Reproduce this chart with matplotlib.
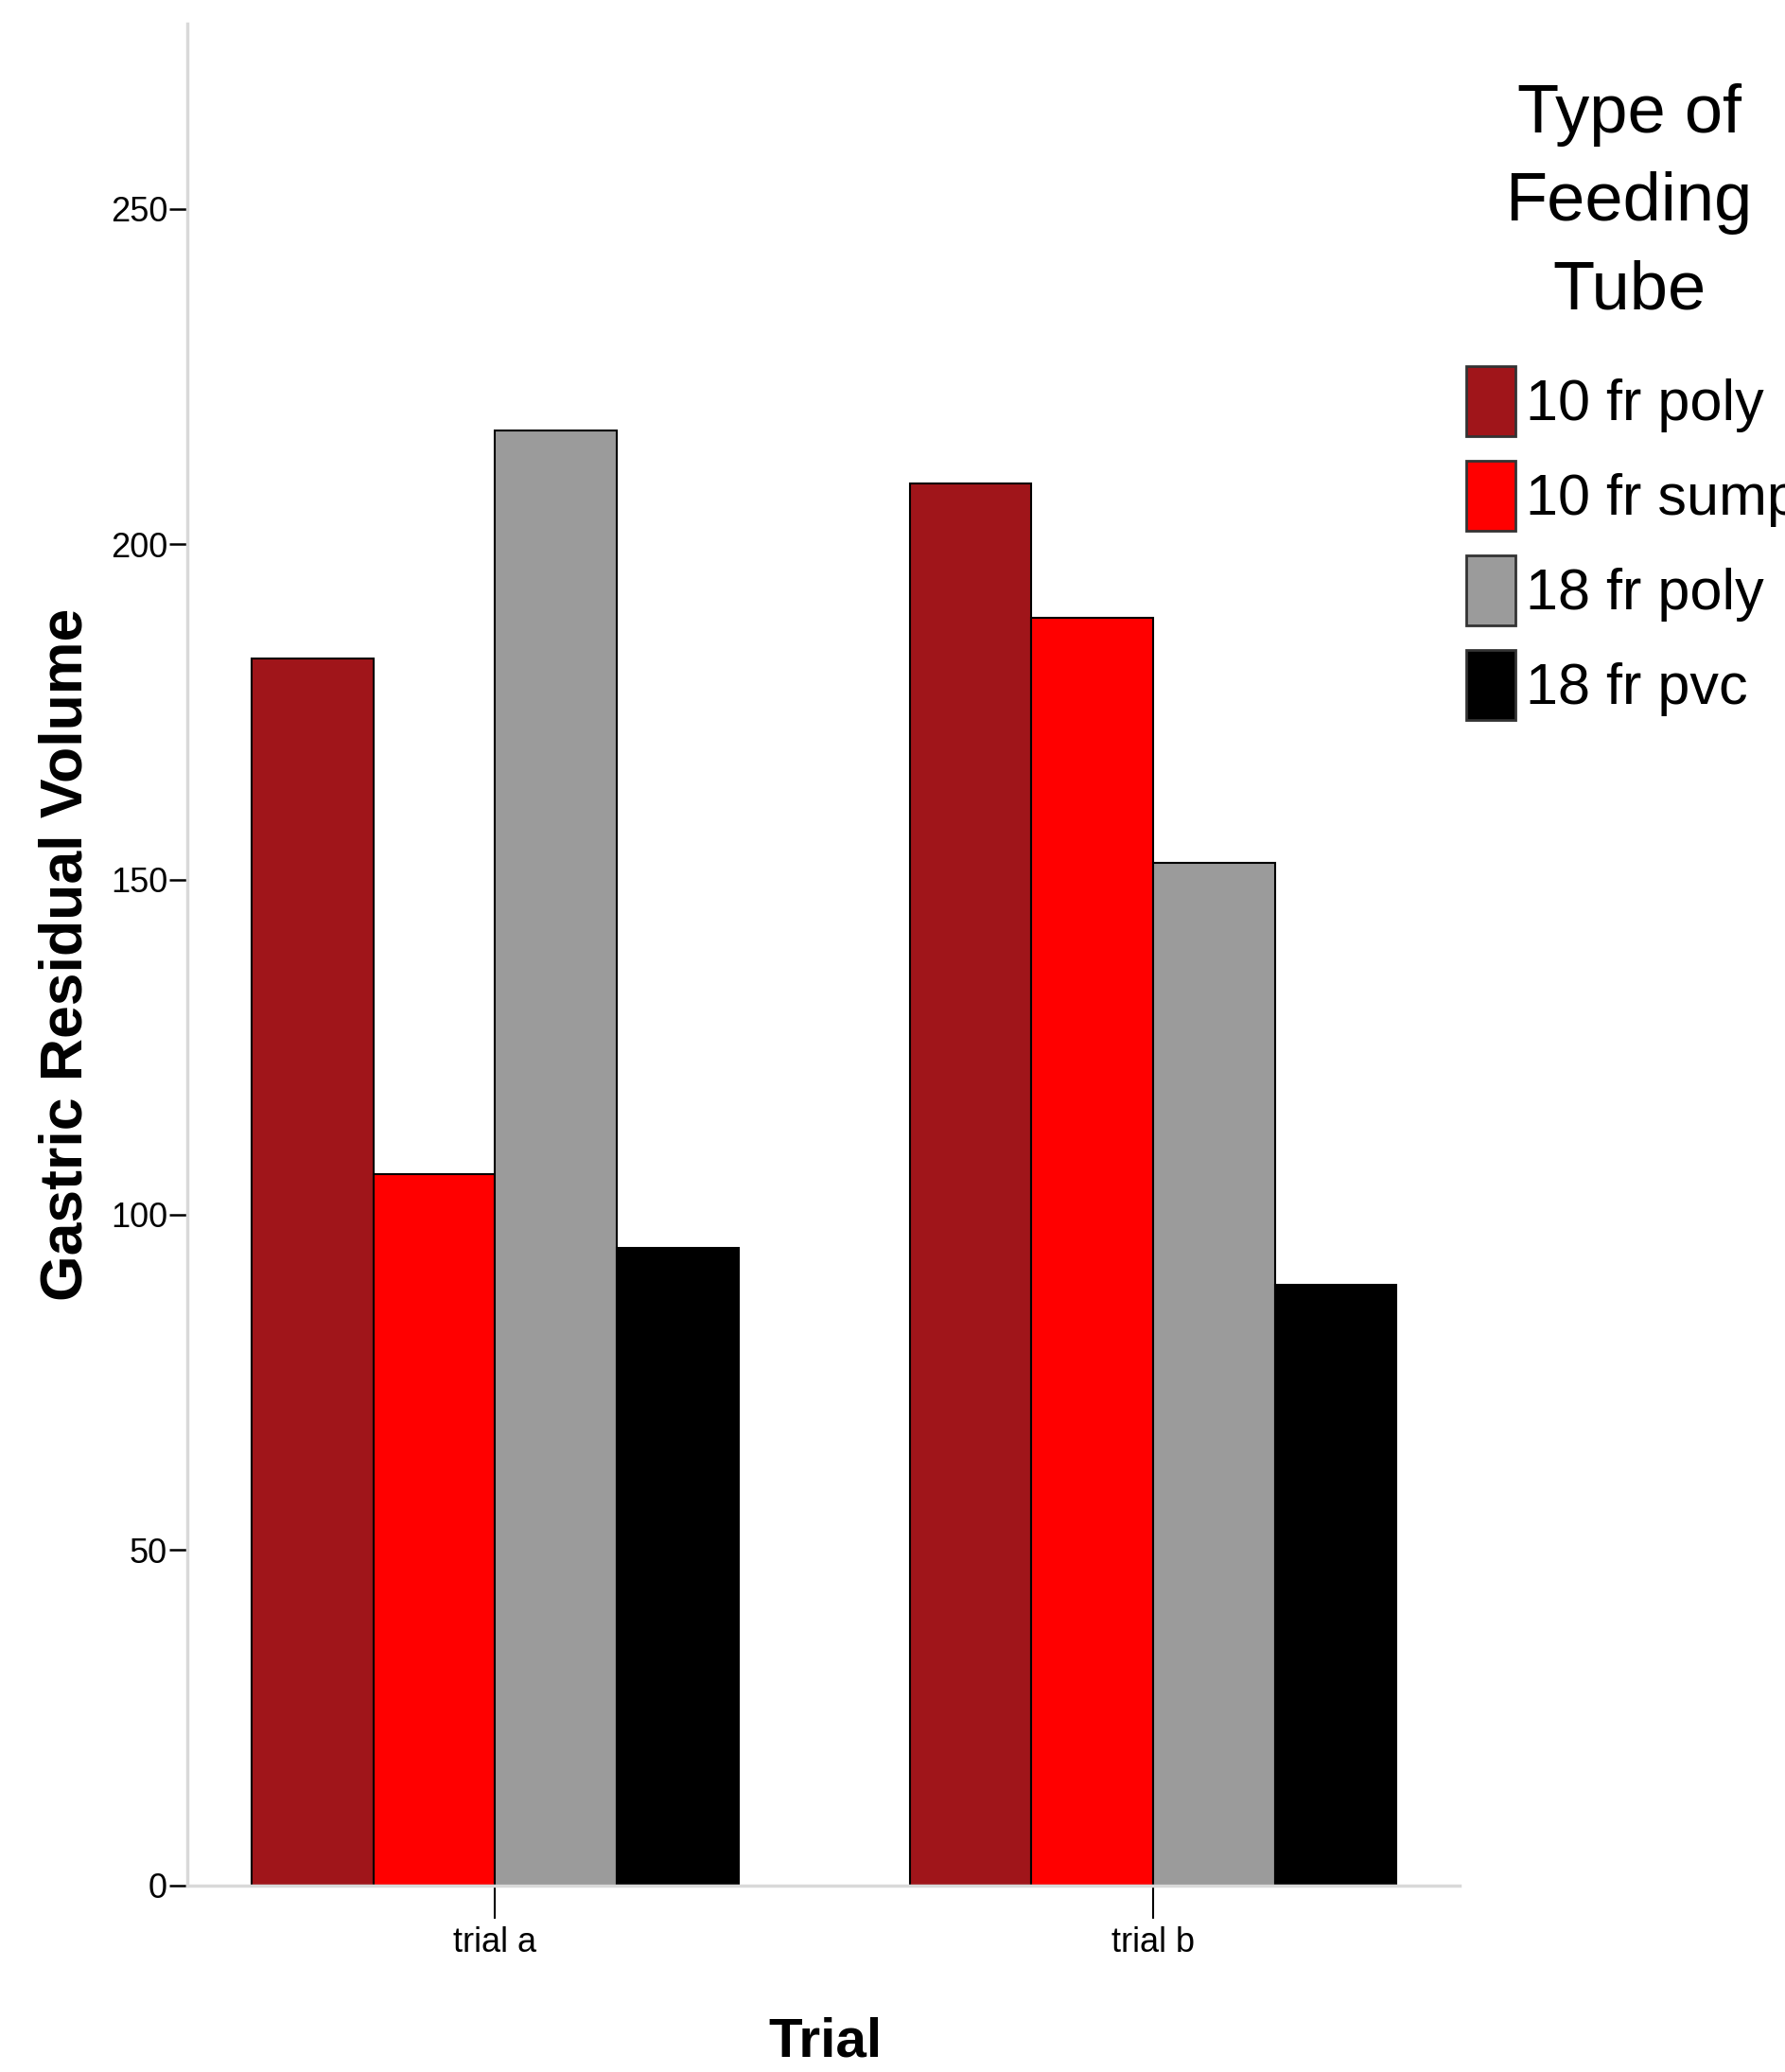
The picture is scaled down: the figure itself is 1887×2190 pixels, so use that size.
import matplotlib.pyplot as plt
import numpy as np

# data
trials = ['trial a', 'trial b']
tube_types = ['10 fr poly', '10 fr sump', '18 fr poly', '18 fr pvc']
poly10 = [183, 209]
sump10 = [106, 189]
poly18 = [217, 152.5]
pvc18 = [95, 89.5]
tube_colors = ['#a0151a', '#ff0000', '#9b9b9b', '#000000']

plain = ['Liberation Sans', 'DejaVu Sans']

fig = plt.figure(figsize=(18.87, 21.9), dpi=100)
ax = fig.add_axes([0.1049, 0.0900, 0.7128, 0.8986])

x = np.arange(len(trials))
w = 0.185
series = [poly10, sump10, poly18, pvc18]
for i, vals in enumerate(series):
    ax.bar(x + (i - 1.5) * w, vals, width=w, color=tube_colors[i],
           edgecolor='black', linewidth=1.5, label=tube_types[i])

ax.set_xlim(-0.468, 1.466)
ax.set_ylim(0, 277.6)
ax.set_yticks([0, 50, 100, 150, 200, 250])
ax.set_xticks(x)
ax.set_xticklabels(trials)

for s in ['top', 'right']:
    ax.spines[s].set_visible(False)
for s in ['left', 'bottom']:
    ax.spines[s].set_color('#d9d9d9')
    ax.spines[s].set_linewidth(2.5)

ax.tick_params(axis='y', direction='out', length=14, width=1.8, pad=1, colors='black')
ax.tick_params(axis='x', direction='out', length=25, width=1.5, pad=6, colors='black')
for lab in ax.get_yticklabels() + ax.get_xticklabels():
    lab.set_family(plain)
    lab.set_fontsize(26)

fig.text(0.037, 0.5393, 'Gastric Residual Volume', rotation=90, ha='center', va='center',
         fontsize=45, fontweight='bold', family=plain)
fig.text(0.4626, 0.0146, 'Trial', ha='center', va='center',
         fontsize=42, fontweight='bold', family=plain)

# legend title, one line at a time
title_lines = ['Type of', 'Feeding', 'Tube']
title_y = [0.9361, 0.8936, 0.8507]
for line, ty in zip(title_lines, title_y):
    fig.text(0.9126, ty, line, ha='center', va='baseline', fontsize=52, family=plain)

# the last label runs past the right edge, same as the reference
leg = fig.legend(loc='upper left', bbox_to_anchor=(0.8214, 0.8233), frameon=False,
                 prop={'family': plain, 'size': 44}, handlelength=0.85, handleheight=1.48,
                 handletextpad=0.18, labelspacing=0.43, borderpad=0, borderaxespad=0)
for p in leg.get_patches():
    p.set_edgecolor('#333333')
    p.set_linewidth(2)

fig.savefig('out.png', dpi=100)
